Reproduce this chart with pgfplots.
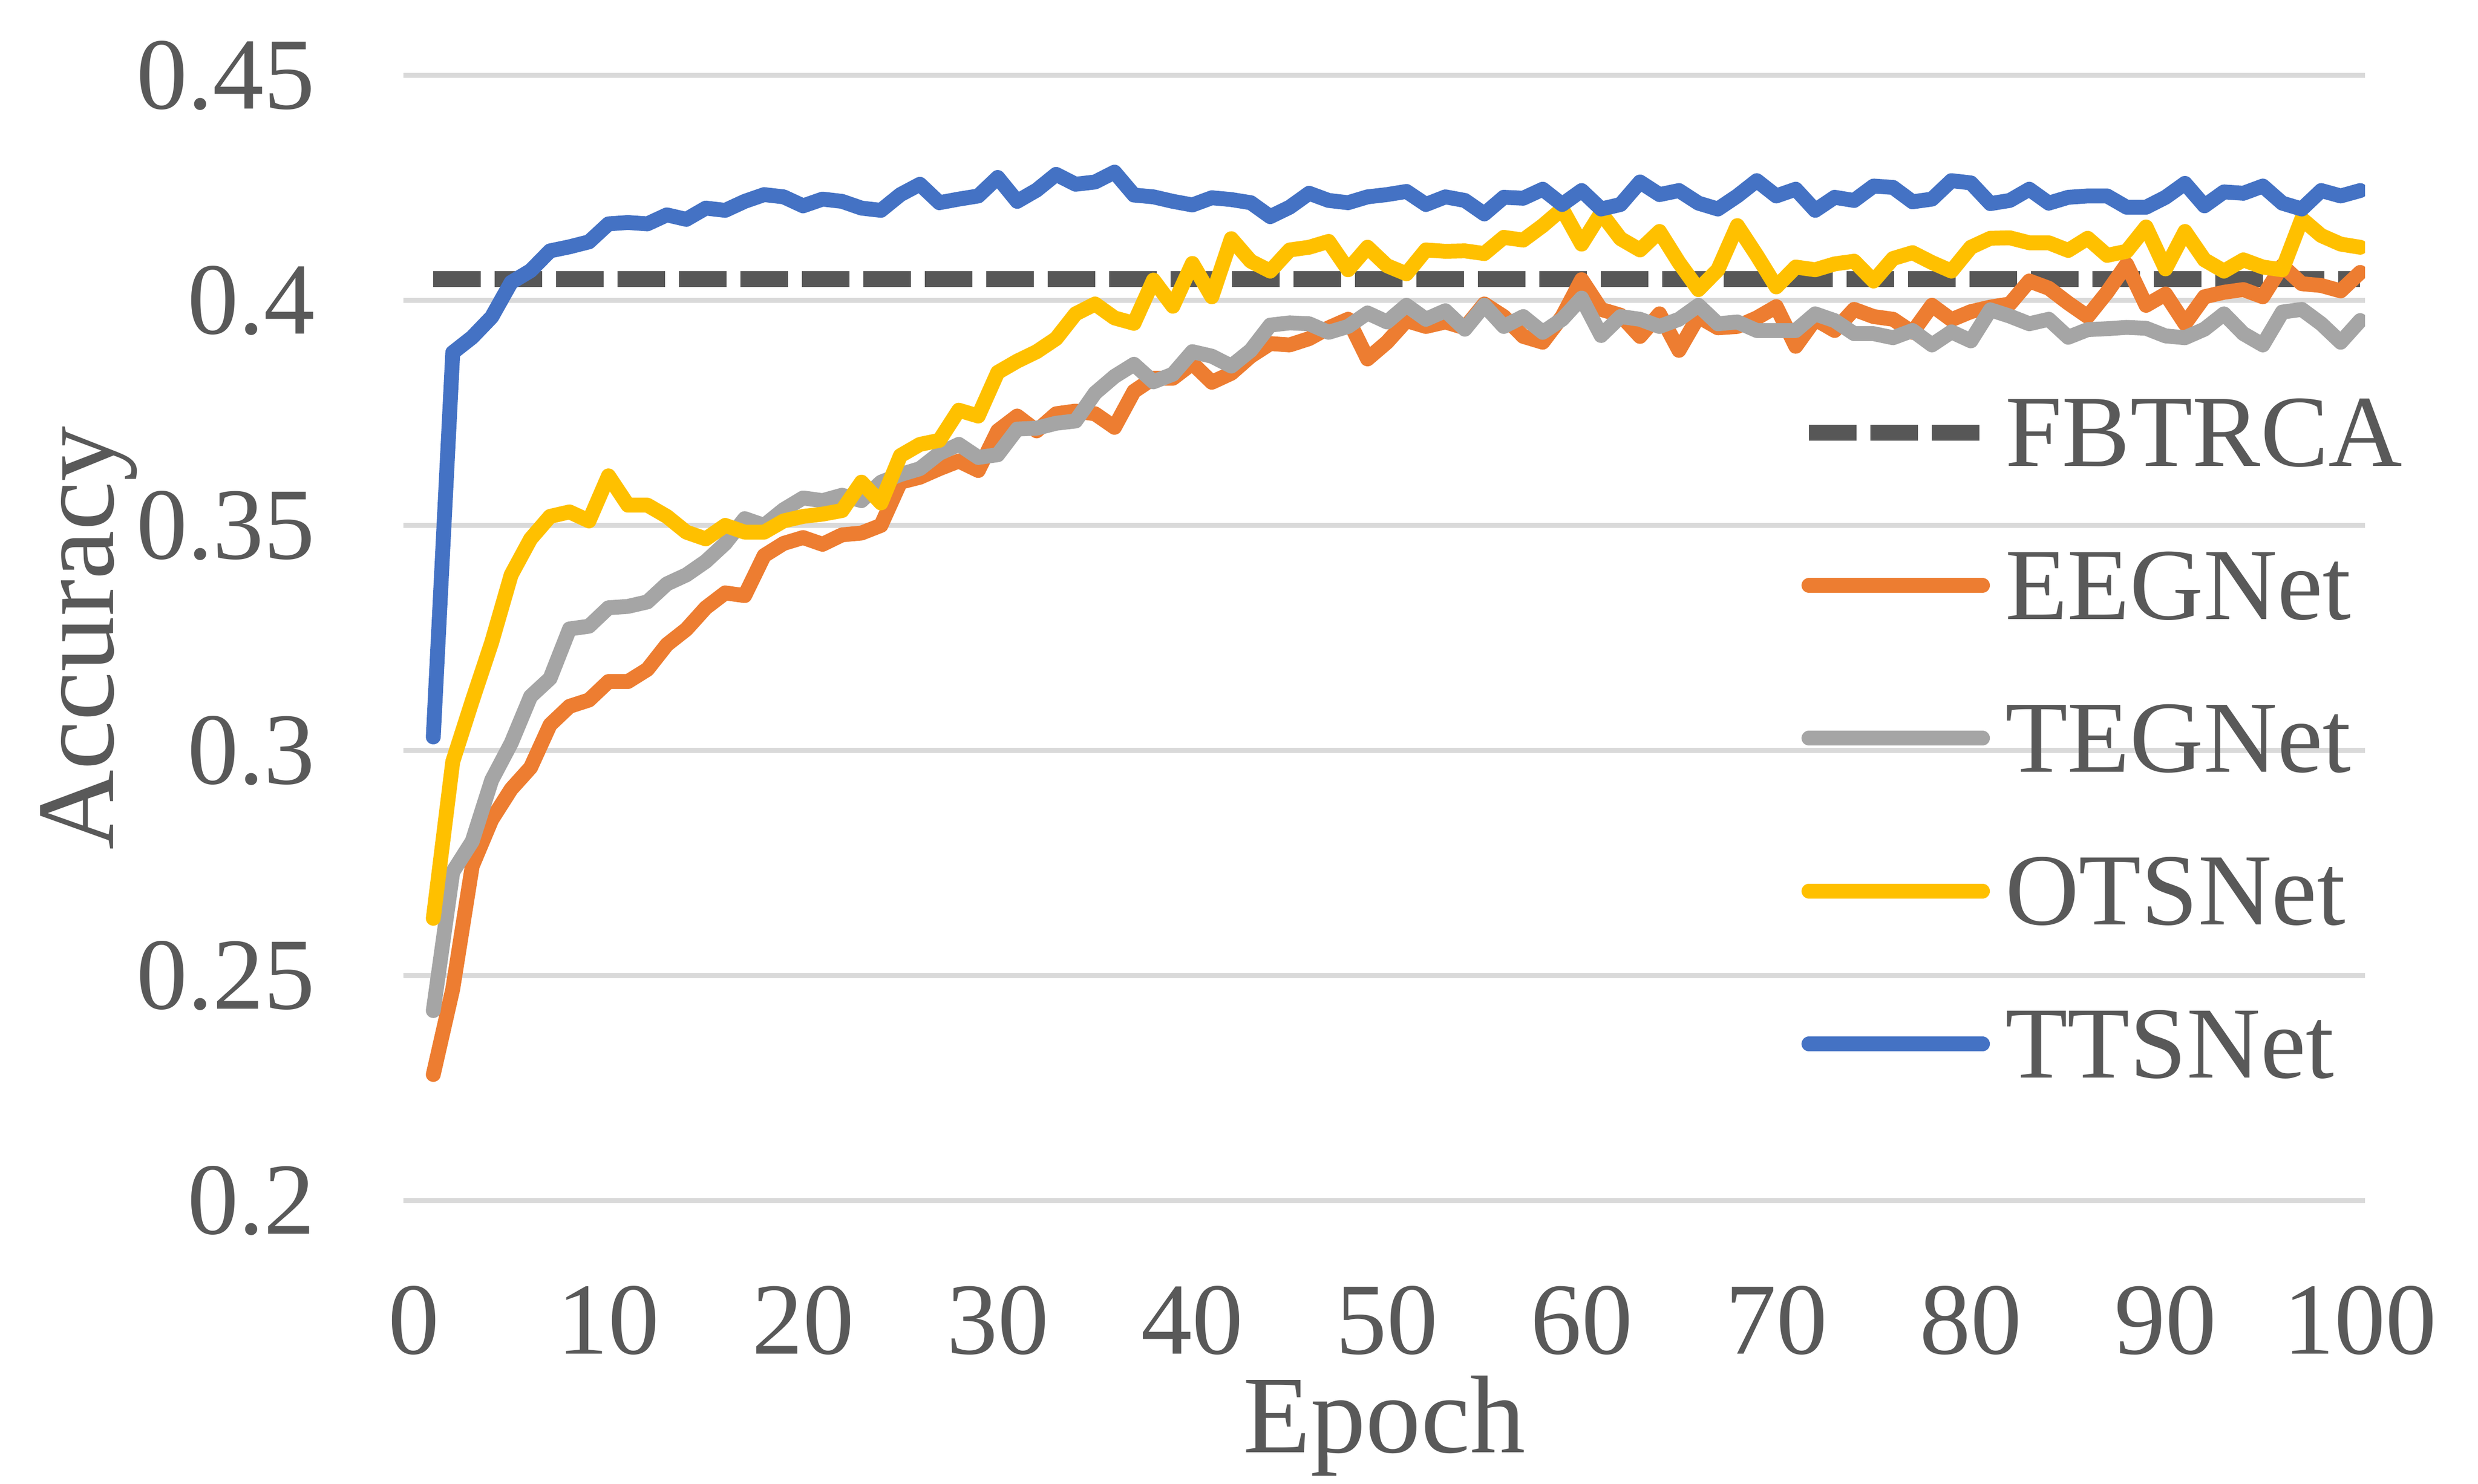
\documentclass[border=0pt]{standalone}
\usepackage{fontspec}
\setmainfont{Liberation Serif}
\usepackage{pgfplots}
\usepackage{pgfplotstable}
\pgfplotsset{compat=1.18}
\definecolor{cEEG}{HTML}{ED7D31}
\definecolor{cTEG}{HTML}{A5A5A5}
\definecolor{cOTS}{HTML}{FFC000}
\definecolor{cTTS}{HTML}{4472C4}
\definecolor{cFB}{HTML}{575757}
\definecolor{ctext}{HTML}{595959}
\definecolor{cgrid}{HTML}{D9D9D9}

\pgfplotstableread{
x y
1 0.4047
100 0.4047
}\fbtrca

\pgfplotstableread{
x y
1 0.228
2 0.247
3 0.2743
4 0.2846
5 0.2914
6 0.2962
7 0.3057
8 0.3098
9 0.3112
10 0.3153
11 0.3153
12 0.318
13 0.3235
14 0.3269
15 0.3317
16 0.335
17 0.3344
18 0.3433
19 0.346
20 0.3473
21 0.3458
22 0.3479
23 0.3483
24 0.350
25 0.3596
26 0.3607
27 0.3626
28 0.3643
29 0.3622
30 0.371
31 0.3743
32 0.371
33 0.3748
34 0.3754
35 0.3748
36 0.3718
37 0.3798
38 0.3827
39 0.3827
40 0.386
41 0.3818
42 0.3838
43 0.3876
44 0.3904
45 0.3901
46 0.3915
47 0.3939
48 0.3958
49 0.387
50 0.3907
51 0.3955
52 0.3942
53 0.3952
54 0.3939
55 0.3992
56 0.3964
57 0.392
58 0.3907
59 0.3964
60 0.4046
61 0.398
62 0.3967
63 0.392
64 0.397
65 0.3889
66 0.3964
67 0.3939
68 0.3942
69 0.3961
70 0.3986
71 0.3898
72 0.3958
73 0.3933
74 0.398
75 0.3964
76 0.3958
77 0.3929
78 0.3989
79 0.3957
80 0.3975
81 0.3985
82 0.3992
83 0.4043
84 0.4027
85 0.3994
86 0.3964
87 0.4018
88 0.408
89 0.3989
90 0.4014
91 0.3948
92 0.4008
93 0.4018
94 0.4024
95 0.4008
96 0.4077
97 0.4037
98 0.4033
99 0.4021
100 0.4062
}\eeg

\pgfplotstableread{
x y
1 0.2422
2 0.273
3 0.2798
4 0.2934
5 0.3016
6 0.312
7 0.316
8 0.327
9 0.3276
10 0.3317
11 0.332
12 0.333
13 0.337
14 0.339
15 0.342
16 0.346
17 0.3515
18 0.350
19 0.3535
20 0.3561
21 0.3555
22 0.3567
23 0.3555
24 0.3596
25 0.3613
26 0.3626
27 0.366
28 0.368
29 0.3651
30 0.3657
31 0.3714
32 0.3716
33 0.3727
34 0.3732
35 0.3794
36 0.3831
37 0.3858
38 0.3819
39 0.3836
40 0.3886
41 0.3876
42 0.3854
43 0.3889
44 0.3945
45 0.395
46 0.3948
47 0.3929
48 0.3942
49 0.3972
50 0.3952
51 0.3989
52 0.3958
53 0.3977
54 0.3936
55 0.3989
56 0.3942
57 0.3964
58 0.3929
59 0.3958
60 0.4005
61 0.3922
62 0.3964
63 0.3958
64 0.3942
65 0.3958
66 0.3989
67 0.3948
68 0.3952
69 0.3933
70 0.3933
71 0.3933
72 0.397
73 0.3955
74 0.3926
75 0.3926
76 0.3917
77 0.3933
78 0.3901
79 0.393
80 0.391
81 0.3979
82 0.3965
83 0.3948
84 0.3958
85 0.3918
86 0.3935
87 0.3937
88 0.394
89 0.3938
90 0.3921
91 0.3917
92 0.3936
93 0.397
94 0.3926
95 0.3901
96 0.3974
97 0.398
98 0.3948
99 0.3907
100 0.3955
}\teg

\pgfplotstableread{
x y
1 0.2627
2 0.2975
3 0.311
4 0.324
5 0.339
6 0.347
7 0.352
8 0.353
9 0.351
10 0.361
11 0.3545
12 0.3545
13 0.352
14 0.3485
15 0.347
16 0.350
17 0.3485
18 0.3485
19 0.351
20 0.352
21 0.3525
22 0.3533
23 0.3596
24 0.355
25 0.3655
26 0.368
27 0.3689
28 0.3756
29 0.3743
30 0.384
31 0.3865
32 0.3886
33 0.3915
34 0.397
35 0.3992
36 0.3961
37 0.3949
38 0.4045
39 0.3987
40 0.4082
41 0.4008
42 0.4137
43 0.4087
44 0.4065
45 0.4112
46 0.4118
47 0.4131
48 0.4068
49 0.4118
50 0.4077
51 0.4059
52 0.4112
53 0.4109
54 0.411
55 0.4104
56 0.414
57 0.4134
58 0.4166
59 0.4203
60 0.4125
61 0.4194
62 0.4137
63 0.4112
64 0.4153
65 0.4084
66 0.4024
67 0.4068
68 0.4166
69 0.41
70 0.403
71 0.4074
72 0.4068
73 0.4081
74 0.4087
75 0.4043
76 0.4093
77 0.4106
78 0.4084
79 0.4065
80 0.4118
81 0.4138
82 0.4139
83 0.4128
84 0.4128
85 0.4111
86 0.4138
87 0.41
88 0.4109
89 0.4163
90 0.407
91 0.4153
92 0.409
93 0.4065
94 0.409
95 0.4074
96 0.4068
97 0.4181
98 0.4144
99 0.4125
100 0.4118
}\ots

\pgfplotstableread{
x y
1 0.303
2 0.3884
3 0.3918
4 0.3963
5 0.404
6 0.4066
7 0.411
8 0.4119
9 0.413
10 0.417
11 0.4173
12 0.417
13 0.419
14 0.418
15 0.4205
16 0.420
17 0.422
18 0.4235
19 0.423
20 0.421
21 0.4225
22 0.422
23 0.4205
24 0.420
25 0.4235
26 0.4258
27 0.4217
28 0.4225
29 0.4232
30 0.4273
31 0.422
32 0.4245
33 0.428
34 0.4258
35 0.4263
36 0.4285
37 0.4234
38 0.423
39 0.422
40 0.4212
41 0.4228
42 0.4224
43 0.4217
44 0.4186
45 0.4207
46 0.4238
47 0.4222
48 0.4217
49 0.423
50 0.4235
51 0.4242
52 0.4213
53 0.423
54 0.4222
55 0.4192
56 0.4229
57 0.4227
58 0.4247
59 0.4213
60 0.4244
61 0.4203
62 0.4213
63 0.4263
64 0.4235
65 0.4244
66 0.4216
67 0.4203
68 0.4232
69 0.4266
70 0.4232
71 0.4247
72 0.42
73 0.4229
74 0.4222
75 0.4254
76 0.4251
77 0.4219
78 0.4225
79 0.4266
80 0.4261
81 0.4215
82 0.4222
83 0.4247
84 0.4216
85 0.4229
86 0.4232
87 0.4232
88 0.4207
89 0.4207
90 0.4229
91 0.426
92 0.421
93 0.4241
94 0.4238
95 0.4254
96 0.4216
97 0.4203
98 0.4244
99 0.4232
100 0.4244
}\tts

\begin{document}
\begin{tikzpicture}
\begin{axis}[
  name=ax,
  scale only axis,
  width=395.8pt, height=227pt,
  xmin=-0.535, xmax=100.25,
  ymin=0.2, ymax=0.45,
  xtick={0,10,20,30,40,50,60,70,80,90,100},
  ytick={0.2,0.25,0.3,0.35,0.4,0.45},
  yticklabels={0.2,0.25,0.3,0.35,0.4,0.45},
  axis line style={draw=none},
  major tick length=0pt,
  ymajorgrids,
  grid style={cgrid, line width=1pt},
  /pgf/number format/assume math mode=true,
  tick label style={font=\fontsize{20.6}{24}\selectfont, text=ctext, inner sep=0pt},
  xticklabel style={anchor=north, yshift=-17pt},
  yticklabel style={anchor=east, xshift=-17.6pt},
  xlabel={Epoch},
  ylabel={Accuracy},
  every axis x label/.style={at={([yshift=-50.8pt]axis description cs:0.5,0)}, anchor=base, inner sep=0pt, font=\fontsize{22.3}{26}\selectfont, text=ctext},
  every axis y label/.style={at={([xshift=-58.5pt]axis description cs:0,0.5)}, rotate=90, anchor=base, inner sep=0pt, font=\fontsize{22.3}{26}\selectfont, text=ctext},
  legend style={at={(0.7125,0.7126)}, anchor=north west, draw=none, fill=none,
    inner sep=0pt, outer sep=0pt, row sep=17.2pt, column sep=3.0pt,
    font=\fontsize{20.6}{24}\selectfont,
    nodes={inner sep=0pt, text depth=0pt, text=ctext},
    cells={anchor=west}},
  legend image code/.code={\draw[#1] (0pt,0pt) -- (35pt,0pt);},
]
\addplot[cFB, line width=3.2pt, dash pattern=on 9.6pt off 2.8pt] table {\fbtrca};
\addlegendentry{FBTRCA}
\addplot[cEEG, line width=3pt, line cap=round, line join=round] table {\eeg};
\addlegendentry{EEGNet}
\addplot[cTEG, line width=3pt, line cap=round, line join=round] table {\teg};
\addlegendentry{TEGNet}
\addplot[cOTS, line width=3pt, line cap=round, line join=round] table {\ots};
\addlegendentry{OTSNet}
\addplot[cTTS, line width=3pt, line cap=round, line join=round] table {\tts};
\addlegendentry{TTSNet}
\end{axis}
\pgfresetboundingbox
\path[use as bounding box] ([xshift=-81.4pt,yshift=-57.2pt]ax.south west) rectangle ([xshift=22.8pt,yshift=15.2pt]ax.north east);
\end{tikzpicture}
\end{document}
